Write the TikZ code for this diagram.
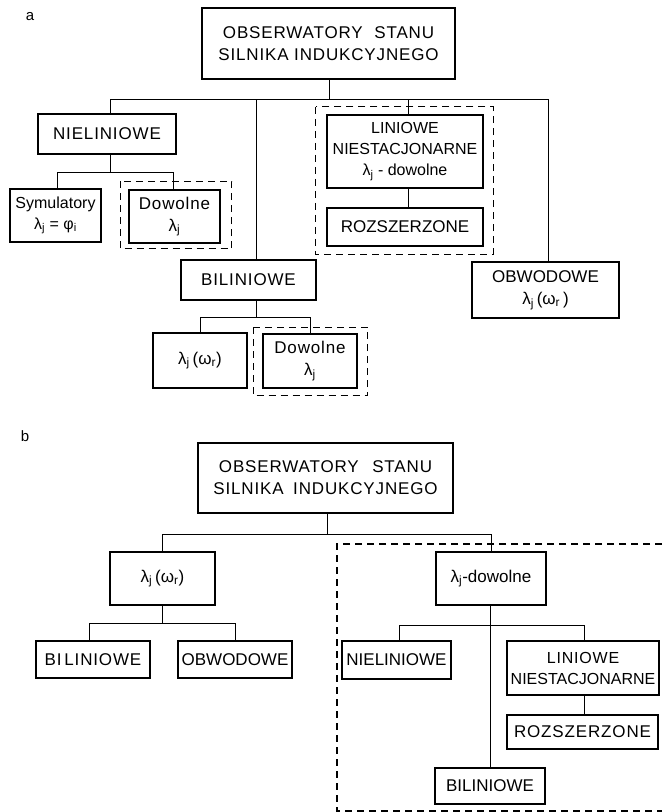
\documentclass[tikz,border=0pt]{standalone}
\usepackage{fontspec}
\setmainfont{Liberation Sans}
\newfontfamily\spacedfont[LetterSpace=5]{Liberation Sans}
\newcommand{\lam}[1]{λ\textsubscript{#1}}
\newcommand{\om}[1]{ω\textsubscript{#1}}
\begin{document}
\begin{tikzpicture}[x=1pt,y=-1pt,
  tb/.style={draw, line width=2.4pt, inner sep=0pt, align=center, font=\fontsize{17}{22}\selectfont},
  mb/.style={draw, line width=1.6pt, inner sep=0pt, align=center, font=\fontsize{17}{22}\selectfont},
  nb/.style={draw, line width=1.1pt, inner sep=0pt, align=center, font=\fontsize{17}{22}\selectfont},
  ln/.style={line width=0.9pt},
  dsh/.style={line width=1.1pt, dash pattern=on 7pt off 5pt},
  lbl/.style={inner sep=0pt, font=\fontsize{15}{18}\selectfont}]
\useasboundingbox (0,0) rectangle (662,812);

% ---------------- part a ----------------
\node[lbl] (la) at (30,17) {a};
\node[tb, minimum width=253, minimum height=71] (topA) at (328.5,43.5)
  {\spacedfont OBSERWATORY\hspace{6pt} STANU\\\spacedfont SILNIKA INDUKCYJNEGO};
\node[tb, minimum width=138, minimum height=40] (nielA) at (107,134) {\spacedfont NIELINIOWE};
\node[tb, minimum width=156, minimum height=73, font=\fontsize{16}{21}\selectfont] (linA) at (405,151.5)
  {LINIOWE\\NIESTACJONARNE\\\lam{j} - dowolne};
\node[tb, minimum width=156, minimum height=38] (rozA) at (405,227) {ROZSZERZONE};
\node[tb, minimum width=135, minimum height=40] (biliA) at (248.5,280) {\spacedfont BILINIOWE};
\node[tb, minimum width=147, minimum height=56] (obwA) at (545.5,290) {OBWODOWE\\\lam{j}\,(\om{r}\,)};
\node[mb, minimum width=91, minimum height=53, font=\fontsize{16}{21}\selectfont] (symA) at (55.5,215.5)
  {Symulatory\\\lam{j} = φ\textsubscript{i}};
\node[mb, minimum width=91, minimum height=53] (dowA) at (174.5,216.5) {\spacedfont Dowolne\\\lam{j}};
\node[mb, minimum width=94, minimum height=55] (lamA) at (200,360.5) {\lam{j}\,(\om{r})};
\node[mb, minimum width=94, minimum height=54] (dow2A) at (310,361) {\spacedfont Dowolne\\\lam{j}};

% dashed groupings (a)
\draw[dsh] ([shift={(-8,-8)}]dowA.north west) rectangle ([shift={(11,5)}]dowA.south east);
\draw[dsh] ([shift={(-9,-6)}]dow2A.north west) rectangle ([shift={(10,7)}]dow2A.south east);
\draw[dsh] ([shift={(-10,-7)}]linA.north west) rectangle ([shift={(9,7)}]rozA.south east);

% connectors (a)
\coordinate (sTopA) at ([xshift=0.5]topA.south);
\path (sTopA) ++(0,19) coordinate (busA);
\coordinate (dNielA) at ([xshift=3]nielA.north);
\coordinate (dBiliA) at ([xshift=7.5]biliA.north);
\coordinate (dLinA) at ([xshift=3]linA.north);
\coordinate (dObwA) at ([xshift=2.5]obwA.north);
\draw[ln] (sTopA) -- (busA);
\draw[ln] (dNielA) |- (dObwA |- busA) -- (dObwA);
\draw[ln] (busA -| dBiliA) -- (dBiliA);
\draw[ln] (busA -| dLinA) -- (dLinA);
\draw[ln] ([xshift=3]linA.south) -- ([xshift=3]rozA.north);

\coordinate (sNielA) at ([xshift=3]nielA.south);
\path (sNielA) ++(0,17) coordinate (jNielA);
\draw[ln] (sNielA) -- (jNielA);
\draw[ln] ([xshift=1.5]symA.north) |- ([xshift=-1.5]dowA.north |- jNielA) -- ([xshift=-1.5]dowA.north);

\coordinate (sBiliA) at ([xshift=7.5]biliA.south);
\path (sBiliA) ++(0,16) coordinate (jBiliA);
\draw[ln] (sBiliA) -- (jBiliA);
\draw[ln] (lamA.north) |- (dow2A.north |- jBiliA) -- (dow2A.north);

% ---------------- part b ----------------
\node[lbl] (lb) at (25,436) {b};
\node[tb, minimum width=255, minimum height=70] (topB) at (325.5,478)
  {\spacedfont OBSERWATORY\hspace{8pt} STANU\\\spacedfont SILNIKA\hspace{4pt} INDUKCYJNEGO};
\node[tb, minimum width=105, minimum height=53] (lamB) at (162.5,578.5) {\lam{j}\,(\om{r})};
\node[tb, minimum width=110, minimum height=53] (dowB) at (491,578.5) {\lam{j}-dowolne};
\node[nb, minimum width=114, minimum height=37] (biliB) at (93,659.5) {\spacedfont BI\,LINIOWE};
\node[nb, minimum width=114, minimum height=37] (obwB) at (235,659.5) {OBWODOWE};
\node[nb, minimum width=109, minimum height=38] (nielB) at (396.5,660) {NIELINIOWE};
\node[nb, minimum width=152, minimum height=54, font=\fontsize{16}{21}\selectfont] (linB) at (583,668)
  {\spacedfont LINIOWE\\NIESTACJONARNE};
\node[nb, minimum width=151, minimum height=34] (rozB) at (582.5,732) {\spacedfont ROZSZERZONE};
\node[nb, minimum width=110, minimum height=36] (biliB2) at (490,786) {BILINIOWE};

% dashed grouping (b)
\coordinate (gTR) at (662,544);
\coordinate (gTL) at (337,544);
\coordinate (gBL) at (337,811);
\coordinate (gBR) at (662,811);
\draw[dsh] (gTR) -- (gTL) -- (gBL) -- (gBR);

% connectors (b)
\coordinate (sTopB) at ([xshift=1.5]topB.south);
\path (sTopB) ++(0,20) coordinate (busB);
\draw[ln] (sTopB) -- (busB);
\draw[ln] (lamB.north) |- (dowB.north |- busB) -- (dowB.north);

\path (lamB.south) ++(0,17) coordinate (jLamB);
\draw[ln] (lamB.south) -- (jLamB);
\draw[ln] ([xshift=-4]biliB.north) |- (obwB.north |- jLamB) -- (obwB.north);

\coordinate (sDowB) at ([xshift=-1]dowB.south);
\path (sDowB) ++(0,19) coordinate (jDowB);
\draw[ln] (sDowB) -- (biliB2.north);
\draw[ln] ([xshift=2.5]nielB.north) |- ([xshift=1]linB.north |- jDowB) -- ([xshift=1]linB.north);
\draw[ln] ([xshift=1]linB.south) -- ([xshift=1.5]rozB.north);
\end{tikzpicture}
\end{document}
